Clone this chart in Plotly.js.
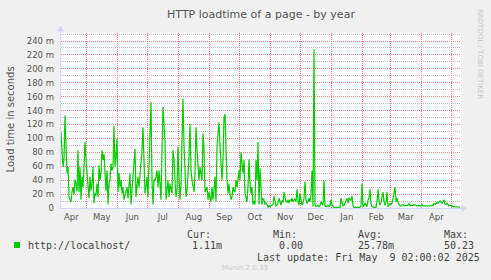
<!DOCTYPE html>
<html>
<head>
<meta charset="utf-8">
<script src="https://cdn.plot.ly/plotly-3.0.1.min.js"></script>
<style>
html,body{margin:0;padding:0;background:#f0f0f0;}
#chart{width:491px;height:280px;}
</style>
</head>
<body>
<div id="chart"></div>
<script>
// ---- data (load time in milliseconds, one value per day) ----
const firstDay = "2024-04-05T16:48:00Z";
const rangeStart = "2024-04-05 16:48";
const rangeEnd = "2025-05-10 16:48";
const loadTimeMs = [
 109,75,59,69,133,90,50,59,16,12,
 9,23,30,19,41,35,24,83,23,59,
 12,45,30,57,95,70,50,23,14,45,
 25,35,59,7,21,18,35,16,61,40,
 50,83,69,78,40,25,54,5,35,40,
 64,54,59,118,60,73,100,23,50,30,
 40,21,30,12,18,23,30,14,28,50,
 5,23,40,59,85,16,30,45,30,50,
 60,83,116,40,21,30,45,16,54,107,
 152,40,5,41,40,45,54,30,54,35,
 12,83,145,120,97,12,25,40,16,35,
 28,21,83,69,40,16,23,88,45,12,
 35,83,157,90,45,16,24,45,73,121,
 54,40,30,23,50,116,85,64,40,59,
 50,40,107,85,23,26,30,12,23,15,
 9,30,12,25,45,9,88,107,123,90,
 69,40,69,130,135,80,40,21,35,20,
 12,16,30,25,23,40,30,40,54,40,
 80,65,50,69,21,15,9,30,70,35,
 21,30,5,10,5,69,40,95,5,57,
 20,5,14,12,5,8,5,1,3,2,
 3,4,5,17,6,3,4,7,14,8,
 4,11,8,23,12,9,8,12,7,12,
 10,14,9,11,13,9,27,10,4,21,
 8,4,6,14,38,12,7,9,14,9,
 20,54,2,228,5,2,3,4,2,3,
 9,5,4,40,2,3,2,4,2,3,
 12,5,2,1,1,1,1,1,1,1,
 14,6,3,4,7,9,14,7,15,12,
 11,17,4,1,1,1,1,1,1,1,
 3,35,2,3,7,4,2,11,15,27,
 6,2,1,1,1,1,9,27,10,4,
 8,18,23,10,4,8,23,2,4,6,
 5,7,14,20,30,9,14,8,4,3,
 3,4,5,3,3,3,3,4,7,3,
 4,3,3,5,4,3,3,3,4,3,
 3,5,3,3,3,2,3,3,3,3,
 3,4,3,7,5,6,8,7,9,10,
 8,7,9,12,6,5,7,4,3,4,
 3,3,2,2,2,2,2,1.5,1.5,1.11
];
const yMajorTicks = [0,20,40,60,80,100,120,140,160,180,200,220,240];
const yTickLabels = ["0","20 m","40 m","60 m","80 m","100 m","120 m","140 m","160 m","180 m","200 m","220 m","240 m"];
const yMinorTicks = [10,30,50,70,90,110,130,150,170,190,210,230,250];
const seriesName = "http://localhost/";
const statHeaders = ["Cur:","Min:","Avg:","Max:"];
const statValues = ["1.11m","0.00","25.78m","50.23"];
const lastUpdate = "Last update: Fri May\u00a0\u00a09 02:00:02 2025";
const chartTitle = "HTTP loadtime of a page - by year";
const yTitle = "Load time in seconds";

// ---- build dates ----
const t0 = Date.parse(firstDay);
const dates = loadTimeMs.map((_, i) => new Date(t0 + i * 86400000).toISOString().slice(0,19).replace("T"," "));

// ---- pixel helpers for page furniture (plot area: x 61..461, y 33..208) ----
const PL = 61, PR = 461, PT = 33, PB = 208;
const px = x => (x - PL) / (PR - PL);
const py = y => (PB - y) / (PB - PT);

const green = "#00cc00";
const axisCol = "#CFD6F8";
const txt = "#555555";
const majorGrid = "#ff8080";
const minorGrid = "#c0c0c0";
const mono = "DejaVu Sans Mono, monospace";
const sans = "DejaVu Sans, sans-serif";

const trace = {
  x: dates, y: loadTimeMs, type: "scatter", mode: "lines",
  line: {color: green, width: 1.2},
  hoverinfo: "skip", showlegend: false
};

const statX = [[185,190],[270.7,276.7],[356,355.7],[441.7,441.7]];
const annotations = [
  {text: yTitle, x: px(10), y: py(119.5), xref:"paper", yref:"paper", showarrow:false,
   textangle:-90, xanchor:"center", yanchor:"middle", font:{family:sans,size:10,color:txt}},
  {text: seriesName, x: px(26), y: py(245.5), xref:"paper", yref:"paper", showarrow:false,
   xanchor:"left", yanchor:"middle", font:{family:mono,size:10,color:"#444"}},
  {text: lastUpdate, x: px(255), y: py(257.5), xref:"paper", yref:"paper", showarrow:false,
   xanchor:"left", yanchor:"middle", font:{family:mono,size:10,color:"#444"}},
  {text: "Munin 2.0.33", x: px(245), y: py(268), xref:"paper", yref:"paper", showarrow:false,
   xanchor:"center", yanchor:"middle", font:{family:sans,size:7,color:"#cccccc"}},
  {text: "RRDTOOL / TOBI OETIKER", x: px(480), y: py(54), xref:"paper", yref:"paper", showarrow:false,
   textangle:90, xanchor:"center", yanchor:"middle", font:{family:sans,size:7,color:"#c8c8c8"}}
];
statHeaders.forEach((h, i) => {
  annotations.push({text: h, x: px(statX[i][0]), y: py(234), xref:"paper", yref:"paper", showarrow:false,
    xanchor:"left", yanchor:"middle", font:{family:mono,size:10,color:"#444"}});
  annotations.push({text: statValues[i], x: px(statX[i][1]), y: py(245.5), xref:"paper", yref:"paper", showarrow:false,
    xanchor:"left", yanchor:"middle", font:{family:mono,size:10,color:"#444"}});
});

const shapes = [
  // legend swatch
  {type:"rect", xref:"paper", yref:"paper", x0: px(14), x1: px(20), y0: py(248), y1: py(242),
   fillcolor: green, line:{width:0}},
  // x axis extension and arrow
  {type:"line", xref:"paper", yref:"paper", x0: px(61), x1: px(463), y0: py(208.5), y1: py(208.5),
   line:{color: axisCol, width:1}},
  {type:"path", xref:"paper", yref:"paper",
   path: `M ${px(462)} ${py(205.5)} L ${px(467)} ${py(208.5)} L ${px(462)} ${py(211.5)} Z`,
   fillcolor: axisCol, line:{color: axisCol, width:0.5}},
  // y axis extension and arrow
  {type:"line", xref:"paper", yref:"paper", x0: px(60.5), x1: px(60.5), y0: py(209), y1: py(30),
   line:{color: axisCol, width:1}},
  {type:"path", xref:"paper", yref:"paper",
   path: `M ${px(57.5)} ${py(31)} L ${px(60.5)} ${py(26)} L ${px(63.5)} ${py(31)} Z`,
   fillcolor: axisCol, line:{color: axisCol, width:0.5}}
];

const layout = {
  width: 491, height: 280,
  paper_bgcolor: "#f0f0f0", plot_bgcolor: "#ffffff",
  margin: {l: PL, r: 491 - PR, t: PT, b: 280 - PB, pad: 0},
  title: {text: chartTitle, x: 0.5, xref: "paper", xanchor: "center", y: 1 - 14/280, yref: "container", yanchor: "middle",
          font: {family: sans, size: 11, color: txt}},
  showlegend: false,
  xaxis: {
    type: "date", range: [rangeStart, rangeEnd], dtick: "M1", tick0: "2024-01-01",
    tickformat: "%b", ticklabelmode: "period",
    showgrid: true, gridcolor: majorGrid, griddash: "1px,1px", gridwidth: 1,
    ticks: "", showline: false, zeroline: false, fixedrange: true,
    tickfont: {family: sans, size: 8.5, color: txt}, ticklabelstandoff: 2
  },
  yaxis: {
    range: [0, 251.5], tickmode: "array", tickvals: yMajorTicks, ticktext: yTickLabels,
    showgrid: true, gridcolor: majorGrid, griddash: "1px,1px", gridwidth: 1,
    minor: {tickmode: "array", tickvals: yMinorTicks, showgrid: true, gridcolor: minorGrid, griddash: "1px,1px", gridwidth: 1, ticks: ""},
    ticks: "", showline: false, zeroline: false, fixedrange: true,
    tickfont: {family: sans, size: 8.5, color: txt}, ticklabelstandoff: 6
  },
  annotations: annotations,
  shapes: shapes
};

Plotly.newPlot("chart", [trace], layout, {displayModeBar: false, staticPlot: true});
</script>
</body>
</html>
